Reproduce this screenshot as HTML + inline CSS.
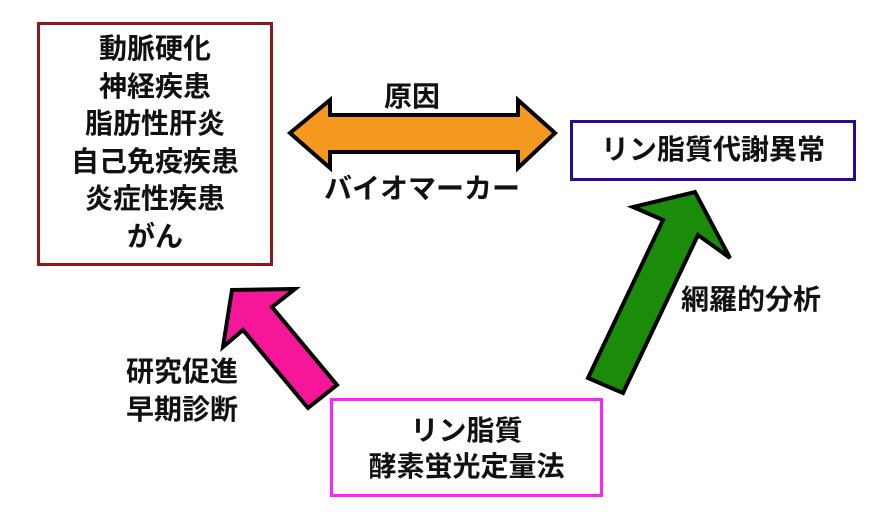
<!DOCTYPE html>
<html><head><meta charset="utf-8"><style>
html,body{margin:0;padding:0;background:#fff;}
body{width:893px;height:529px;position:relative;overflow:hidden;font-family:"Liberation Sans","Noto Sans CJK JP",sans-serif;font-weight:bold;color:#111;}
.t{position:absolute;white-space:nowrap;text-align:center;font-size:28px;line-height:37.5px;}
.box{position:absolute;box-sizing:border-box;background:#fff;}
</style></head><body>
<div class="box" style="left:37px;top:22px;width:236px;height:244px;border:3px solid #8b1a1a;"></div>
<div class="box" style="left:570px;top:120px;width:286px;height:61px;border:3px solid #2a0a90;"></div>
<div class="box" style="left:330px;top:398px;width:273px;height:99px;border:3px solid #ff22ff;"></div>
<svg width="893" height="529" style="position:absolute;left:0;top:0">
<polygon points="290,133 330,100 330,115 518,115 518,100 555,133 518,168 518,152 330,152 330,168" fill="#f4981e" stroke="#000" stroke-width="4" stroke-linejoin="miter"/>
<polygon points="695,192 730,258 698,235 623,393 588,378 663,220 633,207" fill="#1a8c0a" stroke="#000" stroke-width="4"/>
<polygon points="232,290 295,289 272,307 337,385 308,408 243,330 223,347" fill="#f5169a" stroke="#000" stroke-width="4"/>
</svg>
<div class="t" style="left:37px;width:236px;top:30px;">動脈硬化<br>神経疾患<br>脂肪性肝炎<br>自己免疫疾患<br>炎症性疾患<br>がん</div>
<div class="t" style="left:570px;width:286px;top:131px;">リン脂質代謝異常</div>
<div class="t" style="left:330px;width:273px;top:413px;line-height:36px;">リン脂質<br>酵素蛍光定量法</div>
<div class="t" style="left:372px;width:80px;top:78px;">原因</div>
<div class="t" style="left:322px;width:200px;top:170px;">バイオマーカー</div>
<div class="t" style="left:120px;width:124px;top:353px;">研究促進<br>早期診断</div>
<div class="t" style="left:676px;width:150px;top:281px;">網羅的分析</div>
</body></html>
